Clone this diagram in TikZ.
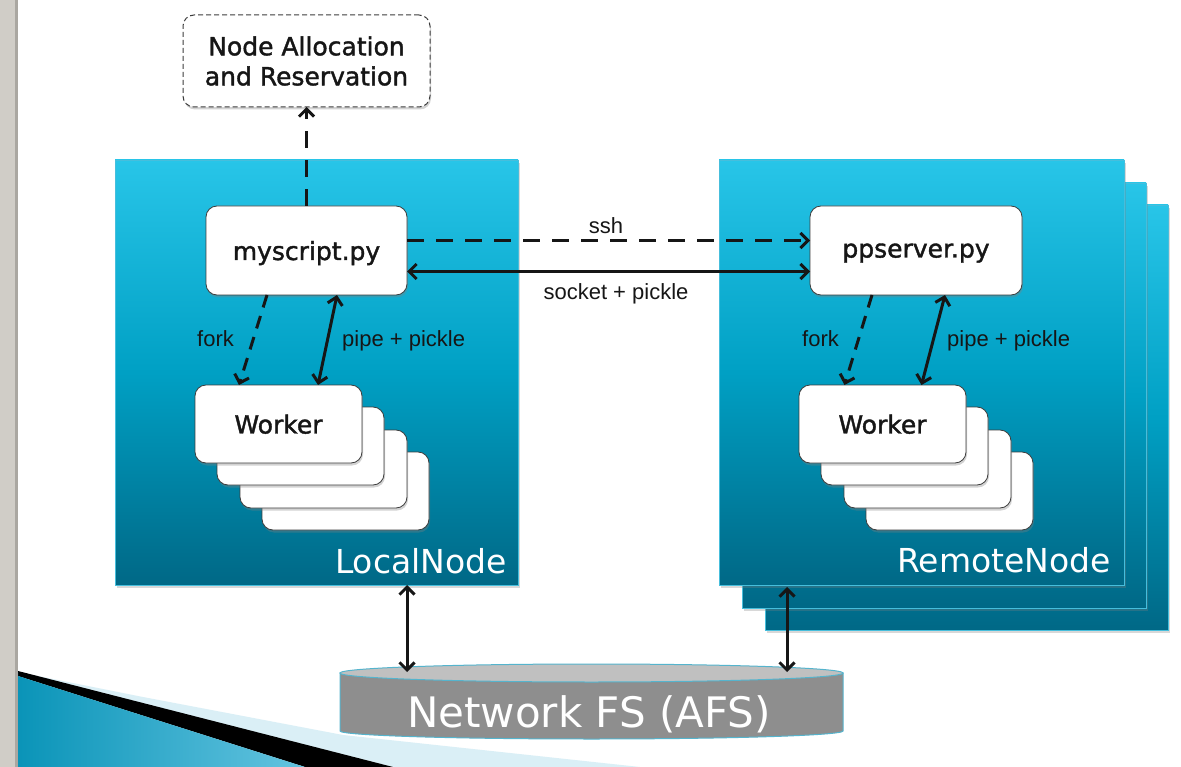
\documentclass[tikz,border=0pt]{standalone}
\usepackage{fontspec}
\setmainfont{DejaVu Sans}
\newfontfamily\boxfont{DejaVu Sans}[FakeBold=1.5]
\newfontfamily\labelfont{Liberation Sans}
\usetikzlibrary{arrows.meta,shadows}

\definecolor{hosttop}{RGB}{40,197,232}
\definecolor{hostmid}{RGB}{0,160,196}
\definecolor{hostbot}{RGB}{0,104,134}
\definecolor{hostedge}{RGB}{70,190,220}
\definecolor{ink}{RGB}{22,22,22}
\definecolor{boxline}{RGB}{60,60,60}
\definecolor{fsbody}{RGB}{142,142,142}
\definecolor{fstop}{RGB}{192,192,192}
\definecolor{fsrim}{RGB}{85,180,205}
\definecolor{strip}{RGB}{208,205,199}
\definecolor{stripedge}{RGB}{170,167,161}
\definecolor{wedgeleft}{RGB}{10,148,184}
\definecolor{wedgeright}{RGB}{100,196,224}
\definecolor{wedgepale}{RGB}{218,239,246}

\begin{document}
\begin{tikzpicture}[x=1pt,y=-1pt,
  >={Straight Barb[length=7.5pt,width=15pt]},
  hostbox/.style={rectangle, anchor=north west, inner sep=0pt, outer sep=0pt,
    draw=hostedge, line width=0.6pt,
    top color=hosttop, bottom color=hostbot, middle color=hostmid,
    drop shadow={shadow xshift=2pt, shadow yshift=-3pt, opacity=0.3}},
  procbox/.style={rectangle, rounded corners=11pt, anchor=north west,
    inner sep=0pt, outer sep=0pt, fill=white, draw=boxline, line width=0.8pt,
    text=ink, font=\boxfont\fontsize{25}{30}\selectfont,
    drop shadow={shadow xshift=1pt, shadow yshift=-2.5pt, opacity=0.35}},
  workerbox/.style={procbox, text depth=0pt, minimum width=167pt, minimum height=78pt},
  lab/.style={font=\labelfont\fontsize{22}{26}\selectfont, text=ink, inner sep=0pt},
  hostlab/.style={font=\fontsize{33}{40}\selectfont, text=white, inner sep=0pt, anchor=base east},
  flow/.style={draw=ink, line width=3pt},
  spawn/.style={flow, dash pattern=on 13pt off 9pt},
  longdash/.style={flow, dash pattern=on 17pt off 12pt},
]
\useasboundingbox (0,0) rectangle (1181,767);
\fill[white] (0,0) rectangle (1181,767);

% slide edge and corner ornament
\fill[strip] (0,0) rectangle (18,767);
\fill[stripedge] (15,0) rectangle (18,767);
\fill[wedgepale] (18,672) -- (143,697) -- (343,735) -- (640,767) -- (393,767) -- cycle;
\fill[black] (18,671) -- (393,767) -- (305,767) -- (18,676) -- cycle;
\shade[left color=wedgeleft, right color=wedgeright] (18,672) -- (18,676) -- (305,767) -- (18,767) -- cycle;

% hosts
\node[hostbox, minimum width=403pt, minimum height=425pt] (local) at (115,160) {};
\node[hostbox, minimum width=403pt, minimum height=425pt] (remote3) at (765,205) {};
\node[hostbox, minimum width=404pt, minimum height=425pt] (remote2) at (742,183) {};
\node[hostbox, minimum width=405pt, minimum height=425pt] (remote) at (719,160) {};
\node[hostlab] (locallab) at (507,573) {LocalNode};
\node[hostlab] (remotelab) at (1111,572) {RemoteNode};

% scheduler
\node[procbox, draw=boxline, dash pattern=on 5pt off 3pt, line width=1pt,
      minimum width=247pt, minimum height=92pt, align=center] (alloc) at (183,15)
      {Node Allocation\\and Reservation};

% processes
\node[procbox, text depth=0pt, minimum width=201pt, minimum height=89pt] (myscript) at (206,206) {myscript.py};
\node[procbox, text depth=0pt, minimum width=212pt, minimum height=89pt] (ppserver) at (810,206) {ppserver.py};

% local workers
\node[workerbox] (lw4) at (262,452) {};
\node[workerbox] (lw3) at (240,430) {};
\node[workerbox] (lw2) at (217,407) {};
\node[workerbox] (lw1) at (195,385) {Worker};

% remote workers
\node[workerbox] (rw4) at (866,452) {};
\node[workerbox] (rw3) at (844,430) {};
\node[workerbox] (rw2) at (821,407) {};
\node[workerbox] (rw1) at (799,385) {Worker};

% shared file system
\fill[fsbody, draw=fsrim, line width=1pt] (340,673) -- (340,731)
  arc[start angle=180, end angle=0, x radius=251.5, y radius=8] -- (843,673) -- cycle;
\filldraw[fill=fstop, draw=fsrim, line width=1pt] (591.5,673) ellipse[x radius=251.5, y radius=9];
\node[font=\fontsize{42}{48}\selectfont, text=white, inner sep=0pt, anchor=base west] (fs) at (407,727) {Network FS (AFS)};
\coordinate (fsleft) at (407,672);
\coordinate (fsright) at (787,672);

% connectors
\draw[longdash, ->] (myscript.north) -- (alloc.south);
\draw[longdash, ->] ([yshift=10pt]myscript.east) -- ([yshift=10pt]ppserver.west);
\draw[flow, <->] ([yshift=-21pt]myscript.east) -- ([yshift=-21pt]ppserver.west);
\node[lab, anchor=base] (sshlab) at (606,234) {ssh};
\node[lab, anchor=base] (socklab) at (616,300) {socket + pickle};

\draw[spawn, ->] ([xshift=-39.5pt]myscript.south) -- ([xshift=-39.5pt]lw1.north);
\draw[flow, <->] ([xshift=30.5pt]myscript.south) -- ([xshift=39.5pt]lw1.north);
\node[lab, anchor=base west] (lfork) at (197,347) {fork};
\node[lab, anchor=base west] (lpipe) at (342,347) {pipe + pickle};

\draw[spawn, ->] ([xshift=-44pt]ppserver.south) -- ([xshift=-38pt]rw1.north);
\draw[flow, <->] ([xshift=29pt]ppserver.south) -- ([xshift=39pt]rw1.north);
\node[lab, anchor=base west] (rfork) at (802,347) {fork};
\node[lab, anchor=base west] (rpipe) at (947,347) {pipe + pickle};

\draw[flow, <->] ([xshift=90.5pt]local.south) -- (fsleft);
\draw[flow, <->] ([xshift=-134.5pt,yshift=-2pt]remote.south) -- (fsright);
\end{tikzpicture}
\end{document}
